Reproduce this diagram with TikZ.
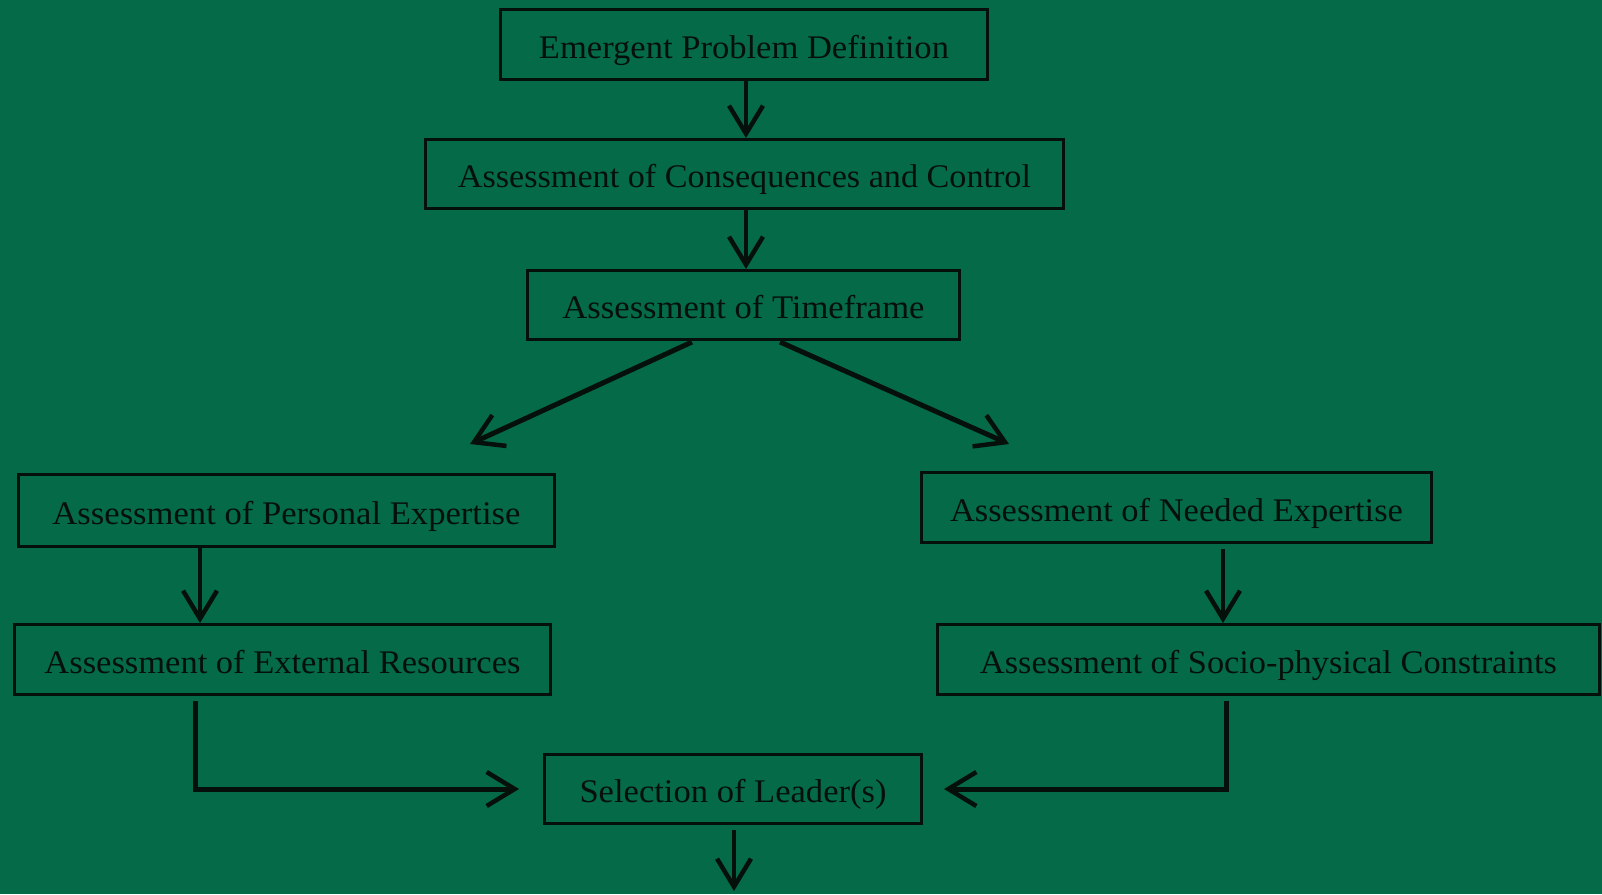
\documentclass[tikz,border=0pt]{standalone}
\usepackage{fontspec}
\usepackage{graphicx}
\setmainfont{Liberation Serif}
\usetikzlibrary{arrows.meta,calc}
\definecolor{boardgreen}{RGB}{4,106,71}
\definecolor{ink}{RGB}{6,16,10}
% text set to a fixed printed width, keeping its natural height;
% its baseline sits 13.5pt below the middle of its box
\newcommand{\fitw}[2]{\raisebox{-13.5pt}[0pt][0pt]{\resizebox{#1}{\height}{#2}}}
\begin{document}
\begin{tikzpicture}[x=1pt,y=-1pt,
  stepbox/.style={draw=ink,line width=3pt,rectangle,inner sep=0pt,
    text=ink,font=\fontsize{33}{38}\selectfont},
  arr/.style={draw=ink,line width=4pt,
    -{Straight Barb[length=28pt,width=34pt,line width=4.5pt]}},
  thickarr/.style={arr,line width=5pt}
]
\useasboundingbox[fill=boardgreen] (0,0) rectangle (1602,894);

\node[stepbox,minimum width=487pt,minimum height=70pt] (epd) at (744,44.5)
  {\fitw{410pt}{Emergent Problem Definition}};
\node[stepbox,minimum width=638pt,minimum height=69pt] (acc) at (744.5,174)
  {\fitw{573pt}{Assessment of Consequences and Control}};
\node[stepbox,minimum width=432pt,minimum height=69pt] (atf) at (743.5,305)
  {\fitw{362pt}{Assessment of Timeframe}};
\node[stepbox,minimum width=536pt,minimum height=72pt] (ape) at (286.5,510.5)
  {\fitw{468pt}{Assessment of Personal Expertise}};
\node[stepbox,minimum width=536pt,minimum height=70pt] (aer) at (282.5,659.5)
  {\fitw{476pt}{Assessment of External Resources}};
\node[stepbox,minimum width=510pt,minimum height=70pt] (ane) at (1176.5,507.5)
  {\fitw{453pt}{Assessment of Needed Expertise}};
\node[stepbox,minimum width=662pt,minimum height=70pt] (asc) at (1268.5,659.5)
  {\fitw{577pt}{Assessment of Socio-physical Constraints}};
\node[stepbox,minimum width=377pt,minimum height=69pt] (sel) at (733,789)
  {\fitw{307pt}{Selection of Leader(s)}};

% free ends of the open arrows
\coordinate (left) at (470,444);
\coordinate (right) at (1009,444);
\coordinate (out) at (734,891);

\draw[arr] ([xshift=2pt]epd.south) -- ([xshift=1.5pt]acc.north);
\draw[arr] ([xshift=1.5pt]acc.south) -- ([xshift=2.5pt]atf.north);
\draw[thickarr] ([xshift=-51.5pt,yshift=-1pt]atf.south) -- (left);
\draw[thickarr] ([xshift=36.5pt,yshift=-1pt]atf.south) -- (right);
\draw[arr] ([xshift=-86.5pt]ape.south) -- ([xshift=-82.5pt]aer.north);
\draw[arr] ([xshift=46.5pt,yshift=-5pt]ane.south) -- ([xshift=-45.5pt]asc.north);
\draw[thickarr] ([xshift=-87.5pt,yshift=-5pt]aer.south) |- ([xshift=-24pt]sel.west);
\draw[thickarr] ([xshift=-42.5pt,yshift=-5pt]asc.south) |- ([xshift=21pt]sel.east);
\draw[arr] ([xshift=1pt,yshift=-5pt]sel.south) -- (out);
\end{tikzpicture}
\end{document}
